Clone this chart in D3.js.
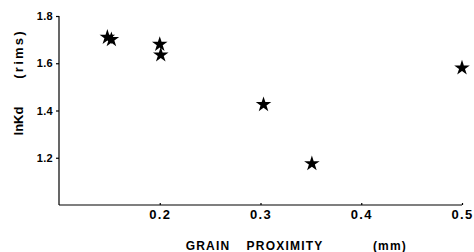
<!DOCTYPE html>
<html>
<head>
<meta charset="utf-8">
<script src="https://cdn.jsdelivr.net/npm/d3@7"></script>
<style>
  body { margin: 0; background: #fff; }
  svg { display: block; }
  text { font-family: "Liberation Sans", Arial, sans-serif; fill: #000; }
</style>
</head>
<body>
<svg id="chart" width="474" height="252"></svg>
<script>
// data
var proximity = [0.148, 0.152, 0.200, 0.201, 0.303, 0.351, 0.500];
var lnKd      = [1.71, 1.70, 1.68, 1.635, 1.425, 1.175, 1.58];
var xTicks = [0.2, 0.3, 0.4, 0.5];
var yTicks = [1.2, 1.4, 1.6, 1.8];

var svg = d3.select('#chart');

var x = d3.scaleLinear().domain([0.1, 0.5]).range([59, 462]);
var y = d3.scaleLinear().domain([1.0, 1.8]).range([205, 16]);

// y axis
var yAxis = d3.axisLeft(y)
    .tickValues(yTicks)
    .tickFormat(d3.format('.1f'))
    .tickSize(3)
    .tickSizeOuter(0);

var gy = svg.append('g')
    .attr('transform', 'translate(59,0)')
    .call(yAxis);
gy.select('.domain').attr('d', 'M0,' + y(1.8) + 'V205');
gy.selectAll('text')
    .attr('x', -6)
    .style('font-size', '11px')
    .style('font-weight', 'bold')
    .style('letter-spacing', '0.3px');

// x axis
var xAxis = d3.axisBottom(x)
    .tickValues(xTicks)
    .tickFormat(d3.format('.1f'))
    .tickSize(-2)
    .tickSizeOuter(0);

var gx = svg.append('g')
    .attr('transform', 'translate(0,205)')
    .call(xAxis);
gx.select('.domain').attr('d', 'M59,0H462');
gx.selectAll('text')
    .attr('y', 5)
    .attr('dy', '0.71em')
    .style('font-size', '13px')
    .style('font-weight', 'bold')
    .style('letter-spacing', '1.3px');

svg.selectAll('.domain, .tick line').attr('stroke', '#000').attr('stroke-width', 1.2);

// axis titles
var titleParts = [['GRAIN', 208], ['PROXIMITY', 285], ['(mm)', 390]];
svg.selectAll('.xtitle')
    .data(titleParts)
    .enter()
    .append('text')
    .attr('class', 'xtitle')
    .attr('x', function(d) { return d[1]; })
    .attr('y', 250)
    .attr('text-anchor', 'middle')
    .style('font-size', '12px')
    .style('font-weight', 'bold')
    .style('letter-spacing', '1.2px')
    .text(function(d) { return d[0]; });

var yTitle = [['lnKd', 121, 13, '0px'], ['(rims)', 54, 13, '2.2px']];
svg.selectAll('.ytitle')
    .data(yTitle)
    .enter()
    .append('text')
    .attr('class', 'ytitle')
    .attr('transform', function(d) { return 'translate(23,' + d[1] + ') rotate(-90)'; })
    .attr('text-anchor', 'middle')
    .style('font-size', function(d) { return d[2] + 'px'; })
    .style('letter-spacing', function(d) { return d[3]; })
    .style('font-weight', 'bold')
    .text(function(d) { return d[0]; });

// stars
var star = d3.symbol().type(d3.symbolStar).size(75);
svg.selectAll('.pt')
    .data(proximity)
    .enter()
    .append('path')
    .attr('class', 'pt')
    .attr('d', star)
    .attr('transform', function(d, i) {
        return 'translate(' + x(d) + ',' + y(lnKd[i]) + ')';
    })
    .attr('fill', '#000');
</script>
</body>
</html>
